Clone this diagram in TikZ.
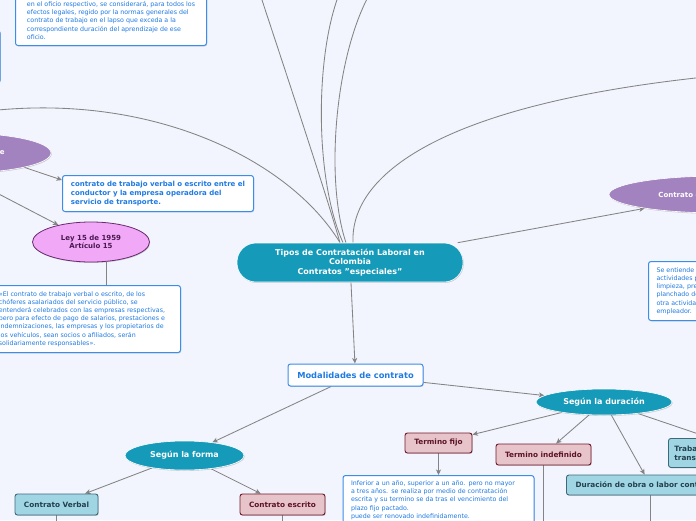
\documentclass[tikz,border=0pt]{standalone}
\usepackage{fontspec}
\setmainfont{DejaVu Sans}
\usetikzlibrary{shapes.geometric,arrows.meta,shadows}
\pgfdeclarelayer{bglayer}
\pgfdeclarelayer{background}
\pgfsetlayers{bglayer,background,main}
\definecolor{bgc}{HTML}{F2F5FD}
\definecolor{lgray}{HTML}{848484}
\definecolor{bblue}{HTML}{3A8DE8}
\definecolor{tblue}{HTML}{1F7AE3}
\definecolor{tealmm}{HTML}{159AB9}
\definecolor{purp}{HTML}{A283BF}
\definecolor{leyfill}{HTML}{F1A9F7}
\definecolor{leybord}{HTML}{6A2A70}
\definecolor{leytext}{HTML}{4A1850}
\definecolor{pfill}{HTML}{E7C3CA}
\definecolor{pbord}{HTML}{70182A}
\definecolor{ptext}{HTML}{5C1425}
\definecolor{lbfill}{HTML}{A0D6E4}
\definecolor{lbbord}{HTML}{3D6A7A}
\definecolor{lbtext}{HTML}{233F4D}
\tikzset{
 conn/.style={draw=lgray, line width=0.85pt},
 arr/.style={conn, -{Stealth[length=5.5pt,width=5pt,inset=1.5pt]}},
 shadowed/.style={drop shadow={shadow xshift=0.7pt,shadow yshift=-0.9pt,opacity=0.3,fill=black!60}},
 wbox/.style={shadowed, draw=bblue, fill=white, line width=1pt, rounded corners=2.5pt, text=tblue, align=left, font=\fontsize{6.3}{8.2}\selectfont, inner sep=0pt},
 wboxb/.style={wbox, font=\fontsize{7}{8.6}\selectfont\bfseries},
 pbox/.style={shadowed, draw=pbord, fill=pfill, line width=0.9pt, rounded corners=2.5pt, text=ptext, font=\fontsize{7.3}{9}\selectfont\bfseries, inner sep=0pt, align=center},
 lbbox/.style={shadowed, draw=lbbord, fill=lbfill, line width=0.9pt, rounded corners=2.5pt, text=lbtext, font=\fontsize{7.3}{9}\selectfont\bfseries, inner sep=0pt, align=left},
 tealell/.style={ellipse, shadowed, draw=white, line width=0.6pt, fill=tealmm, text=white, font=\fontsize{8}{9.5}\selectfont\bfseries, inner sep=0pt},
 purpell/.style={tealell, fill=purp, font=\fontsize{7}{8.5}\selectfont\bfseries},
 leyell/.style={ellipse, shadowed, draw=leybord, line width=0.8pt, fill=leyfill, text=leytext, font=\fontsize{7}{8.5}\selectfont\bfseries, align=center, inner sep=0pt},
 central/.style={shadowed, fill=tealmm, draw=white, line width=0.6pt, rounded corners=19pt, text=white, font=\fontsize{8}{9.5}\selectfont\bfseries, align=center, inner sep=0pt},
}
\begin{document}
\begin{tikzpicture}[x=1pt,y=-1pt]
\useasboundingbox (0,0) rectangle (696,520);
\begin{pgfonlayer}{bglayer}
\fill[bgc] (0,0) rectangle (696,520);
\end{pgfonlayer}

% ---------- nodes ----------
\node[wbox, anchor=south west, minimum width=191pt, minimum height=50pt] (topbox) at (15,46)
 {en el oficio respectivo, se considerará, para todos los\\efectos legales, regido por la normas generales del\\contrato de trabajo en el lapso que exceda a la\\correspondiente duración del aprendizaje de ese\\oficio.};
\node[wbox, anchor=north east, minimum width=100pt, minimum height=52pt] (leftbox) at (0.6,30) {};

\node[purpell, minimum width=184pt, minimum height=40pt] (transp) at (-41,153) {Contrato de transporte};
\node[wboxb, anchor=north west, minimum width=191pt, minimum height=36pt] (cond) at (62,175)
 {contrato de trabajo verbal o escrito entre el\\conductor y la empresa operadora del\\servicio de transporte.};
\node[leyell, minimum width=117pt, minimum height=40pt] (ley) at (91,242) {Ley 15 de 1959\\Artículo 15};
\node[wbox, anchor=north east, minimum width=197pt, minimum height=67pt] (leybox) at (181,285)
 {«El contrato de trabajo verbal o escrito, de los\\chóferes asalariados del servicio público, se\\entenderá celebrados con las empresas respectivas,\\pero para efecto de pago de salarios, prestaciones e\\indemnizaciones, las empresas y los propietarios de\\los vehículos, sean socios o afiliados, serán\\solidariamente responsables».};

\node[central, minimum width=226pt, minimum height=39pt] (c) at (350,262.5)
 {Tipos de Contratación Laboral en\\Colombia\\Contratos "especiales"};

\node[purpell, minimum width=222pt, minimum height=37pt] (domes) at (720,194.5) {Contrato de servicio doméstico};
\node[wbox, anchor=north west, minimum height=59pt, text width=200pt, inner xsep=8pt] (domesbox) at (648,261)
 {Se entiende por trabajo doméstico las\\actividades propias del hogar como\\limpieza, preparación de alimentos, lavado y\\planchado de ropa, cuidado de niños y cualquier\\otra actividad que se realice en el hogar del\\empleador.};

\node[wboxb, font=\fontsize{8.3}{9.5}\selectfont\bfseries, minimum width=135pt, minimum height=22pt, align=center] (mod) at (355.5,375) {Modalidades de contrato};

\node[tealell, minimum width=136pt, minimum height=26pt] (dur) at (604,402) {Según la duración};
\node[tealell, minimum width=119pt, minimum height=29pt] (forma) at (184.5,455.5) {Según la forma};

\node[lbbox, minimum width=83pt, minimum height=21pt, align=center] (verbal) at (56.5,504.5) {Contrato Verbal};
\node[pbox, minimum width=85pt, minimum height=21pt] (escrito) at (282.5,504.5) {Contrato escrito};

\node[pbox, minimum width=67pt, minimum height=20pt] (fijo) at (438.5,443) {Termino fijo};
\node[pbox, minimum width=95pt, minimum height=21pt] (indef) at (543.5,454.5) {Termino indefinido};
\node[lbbox, anchor=west, minimum width=168pt, minimum height=20pt, align=center] (obra) at (566,485) {Duración de obra o labor contratada};
\node[lbbox, anchor=north west, minimum width=172pt, minimum height=29pt, text width=160pt, inner xsep=6pt] (trab) at (668,438) {Trabajo ocasional, accidental o\\transitorio};

\node[wbox, anchor=north, minimum width=191pt, text width=175pt, inner ysep=5pt] (fijobox) at (438.5,475)
 {Inferior a un año, superior a un año. pero no mayor\\a tres años. se realiza por medio de contratación\\escrita y su termino se da tras el vencimiento del\\plazo fijo pactado.\\puede ser renovado indefinidamente.};

% free ends
\coordinate (eL) at (-20,112);
\coordinate (eT1) at (261,-3);
\coordinate (eT2) at (338,-3);
\coordinate (eT3) at (368,-3);
\coordinate (eR) at (705,77);
\coordinate (eVb) at (56.5,540);
\coordinate (eEs) at (282.5,540);
\coordinate (eIn) at (543.5,540);
\coordinate (eOb) at (650,540);

% ---------- connectors ----------
\begin{pgfonlayer}{background}
\draw[conn] ([xshift=-10pt]c.north) .. controls (290,160) and (150,90) .. (eL);
\draw[conn] ([xshift=-10pt]c.north) .. controls (325,190) and (285,70) .. (eT1);
\draw[conn] ([xshift=-7pt]c.north) .. controls (315,180) and (315,60) .. (eT2);
\draw[conn] ([xshift=-4pt]c.north) .. controls (325,180) and (335,60) .. (eT3);
\draw[conn] ([xshift=3pt]c.north) .. controls (350,175) and (440,105) .. (eR);
\draw[arr] (c) -- (domes);
\draw[arr] (c) -- (mod);
\draw[arr] (mod) -- (dur);
\draw[arr] (mod) -- (forma);
\draw[arr] (forma) -- (verbal);
\draw[arr] (forma) -- (escrito);
\draw[arr] (dur) -- (fijo);
\draw[arr] (dur) -- (indef);
\draw[arr] (dur) -- (obra);
\draw[arr] (dur) -- (trab);
\draw[arr] (fijo) -- (fijobox);
\draw[conn] (verbal) -- (eVb);
\draw[conn] (escrito) -- (eEs);
\draw[conn] (indef) -- (eIn);
\draw[conn] (obra.south -| eOb) -- (eOb);
\draw[arr] (transp.south east) -- (cond.172);
\draw[arr] (transp.south) -- (ley);
\draw[conn] (ley.-52) -- (ley.-52 |- leybox.north);
\end{pgfonlayer}
\end{tikzpicture}
\end{document}
